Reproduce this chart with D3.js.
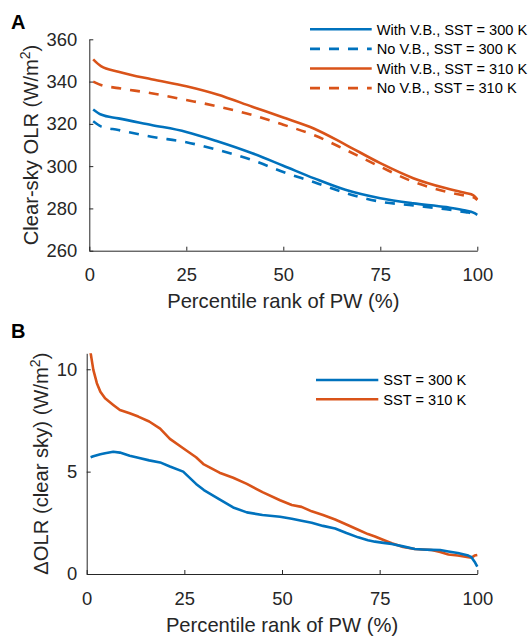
<!DOCTYPE html>
<html>
<head>
<meta charset="utf-8">
<script src="https://cdn.jsdelivr.net/npm/d3@7"></script>
<style>
  body { margin: 0; background: #fff; }
  svg { display: block; font-family: "Liberation Sans", Arial, sans-serif; }
</style>
</head>
<body>
<div id="chart"></div>
<script>
// panel A: clear-sky OLR vs percentile rank of PW
const pctA = [1, 3, 7.5, 16, 25, 33, 42, 50, 58, 66, 75, 83.5, 92, 97, 99, 100];
const vb300 = [326.8, 324.4, 322.6, 319.5, 316.2, 311.8, 306.1, 300.2, 294.2, 288.8, 284.8, 282.4, 280.6, 279.0, 278.0, 277.0];
const novb300 = [321.2, 318.8, 317.1, 313.9, 311.3, 307.7, 302.9, 297.2, 292.4, 287.3, 283.2, 281.4, 279.6, 278.2, 277.6, 277.0];
const vb310 = [350.5, 347.3, 344.7, 341.1, 337.8, 333.9, 328.1, 323.0, 317.7, 310.2, 301.4, 294.3, 289.5, 287.3, 286.2, 284.3];
const novb310 = [340.0, 338.4, 336.9, 334.5, 331.3, 328.3, 324.2, 319.6, 314.6, 307.8, 299.7, 292.6, 287.9, 286.0, 285.2, 284.0];
const legendA = ["With V.B., SST = 300 K", "No V.B., SST = 300 K", "With V.B., SST = 310 K", "No V.B., SST = 310 K"];

// panel B: delta OLR (clear sky)
const pctB = [1, 1.7, 2.6, 3.5, 4.7, 6.8, 8.5, 11, 13.2, 16, 18.8, 21.3, 24.7, 28, 30, 34, 37.5, 41, 45, 49.5,
  52.5, 55, 57.6, 60.5, 63.6, 66.5, 69.5, 72, 73.8, 76, 78.1, 81, 84, 86, 88.3, 90.5, 92.6, 95, 97.7, 98.5, 99.3, 100];
const dOlr300 = [5.70, 5.75, 5.80, 5.85, 5.90, 5.97, 5.93, 5.78, 5.68, 5.55, 5.45, 5.25, 5.00, 4.40, 4.10, 3.65, 3.25, 3.01, 2.88, 2.80,
  2.70, 2.60, 2.50, 2.35, 2.22, 2.00, 1.79, 1.65, 1.58, 1.52, 1.47, 1.35, 1.22, 1.20, 1.18, 1.17, 1.10, 1.03, 0.90, 0.82, 0.60, 0.36];
const dOlr310 = [10.8, 9.97, 9.32, 8.90, 8.58, 8.26, 8.01, 7.85, 7.69, 7.45, 7.10, 6.60, 6.14, 5.70, 5.35, 4.95, 4.70, 4.40, 4.00, 3.60,
  3.37, 3.28, 3.06, 2.88, 2.66, 2.42, 2.16, 1.95, 1.83, 1.66, 1.50, 1.32, 1.22, 1.20, 1.17, 1.07, 0.95, 0.90, 0.82, 0.80, 0.90, 0.93];
const legendB = ["SST = 300 K", "SST = 310 K"];

const blue = "#0072BD", orange = "#D95319", ink = "#262626";
const tickFont = 18.4, labelFont = 20.2, legFont = 14.6;

const svg = d3.select("#chart").append("svg")
    .attr("width", 532)
    .attr("height", 637);

function styleAxis(g) {
    g.attr("font-family", null).attr("font-size", null);
    g.select(".domain").attr("stroke", ink).attr("stroke-width", 1);
    g.selectAll(".tick line").attr("stroke", ink).attr("stroke-width", 1);
    g.selectAll(".tick text").attr("fill", ink).style("font-size", tickFont + "px");
}

// ---------- panel A ----------
const xA = d3.scaleLinear().domain([0, 100]).range([89.3, 477.3]);
const yA = d3.scaleLinear().domain([260, 360]).range([250.7, 39.3]);

svg.append("g")
    .attr("transform", "translate(0," + yA(260) + ")")
    .call(d3.axisBottom(xA).tickValues([0, 25, 50, 75, 100]).tickSizeInner(-4).tickSizeOuter(0).tickPadding(17.7))
    .call(styleAxis);

svg.append("g")
    .attr("transform", "translate(" + xA(0) + ",0)")
    .call(d3.axisLeft(yA).tickValues([260, 280, 300, 320, 340, 360]).tickSizeInner(-4).tickSizeOuter(0).tickPadding(12))
    .call(styleAxis);

const lineA = d3.line()
    .x((d, i) => xA(pctA[i]))
    .y(d => yA(d))
    .curve(d3.curveMonotoneX);

const seriesA = [
    {vals: vb300, color: blue, dash: null},
    {vals: novb300, color: blue, dash: "10,9"},
    {vals: vb310, color: orange, dash: null},
    {vals: novb310, color: orange, dash: "10,9"}
];

// draw dashed underneath, solid on top (like the figure)
[1, 3, 0, 2].forEach(k => {
    const s = seriesA[k];
    svg.append("path")
        .datum(s.vals)
        .attr("fill", "none")
        .attr("stroke", s.color)
        .attr("stroke-width", 2.6)
        .attr("stroke-dasharray", s.dash)
        .attr("d", lineA);
});

const legA = svg.append("g");
seriesA.forEach((s, i) => {
    const y = 29.3 + i * 19.6;
    legA.append("line")
        .attr("x1", 310).attr("x2", 371.7)
        .attr("y1", y).attr("y2", y)
        .attr("stroke", s.color)
        .attr("stroke-width", 2.6)
        .attr("stroke-dasharray", s.dash);
    legA.append("text")
        .attr("x", 376.7).attr("y", y + 5.2)
        .attr("fill", "#000")
        .style("font-size", legFont + "px")
        .text(legendA[i]);
});

svg.append("text")
    .attr("x", xA(50)).attr("y", 308)
    .attr("text-anchor", "middle")
    .attr("fill", ink)
    .style("font-size", labelFont + "px")
    .text("Percentile rank of PW (%)");

const ylabA = svg.append("text")
    .attr("transform", "translate(37.5," + ((yA(260) + yA(360)) / 2) + ") rotate(-90)")
    .attr("text-anchor", "middle")
    .attr("fill", ink)
    .style("font-size", labelFont + "px");
ylabA.append("tspan").text("Clear-sky OLR (W/m");
ylabA.append("tspan").attr("dy", -8).style("font-size", "14px").text("2");
ylabA.append("tspan").attr("dy", 8).text(")");

svg.append("text")
    .attr("x", 11).attr("y", 29.3)
    .attr("font-weight", "bold")
    .style("font-size", "20px")
    .text("A");

// ---------- panel B ----------
const xB = d3.scaleLinear().domain([0, 100]).range([86.7, 477.3]);
const yB = d3.scaleLinear().domain([0, 10.78]).range([574, 353.3]);

svg.append("g")
    .attr("transform", "translate(0," + yB(0) + ")")
    .call(d3.axisBottom(xB).tickValues([0, 25, 50, 75, 100]).tickSizeInner(-4).tickSizeOuter(0).tickPadding(17.9))
    .call(styleAxis);

svg.append("g")
    .attr("transform", "translate(" + xB(0) + ",0)")
    .call(d3.axisLeft(yB).tickValues([0, 5, 10]).tickSizeInner(-4).tickSizeOuter(0).tickPadding(9.4))
    .call(styleAxis);

svg.append("clipPath").attr("id", "clipB")
    .append("rect")
    .attr("x", xB(0)).attr("y", yB(10.78))
    .attr("width", xB(100) - xB(0) + 4)
    .attr("height", yB(0) - yB(10.78));

const lineB = d3.line()
    .x((d, i) => xB(pctB[i]))
    .y(d => yB(d));

const seriesB = [
    {vals: dOlr300, color: blue},
    {vals: dOlr310, color: orange}
];

[1, 0].forEach(k => {
    svg.append("path")
        .datum(seriesB[k].vals)
        .attr("clip-path", "url(#clipB)")
        .attr("fill", "none")
        .attr("stroke", seriesB[k].color)
        .attr("stroke-width", 2.6)
        .attr("stroke-linejoin", "round")
        .attr("d", lineB);
});

const legB = svg.append("g");
seriesB.forEach((s, i) => {
    const y = 380 + i * 19.3;
    legB.append("line")
        .attr("x1", 316).attr("x2", 378.3)
        .attr("y1", y).attr("y2", y)
        .attr("stroke", s.color)
        .attr("stroke-width", 2.6);
    legB.append("text")
        .attr("x", 383.3).attr("y", y + 5.2)
        .attr("fill", "#000")
        .style("font-size", legFont + "px")
        .text(legendB[i]);
});

svg.append("text")
    .attr("x", xB(50)).attr("y", 631.7)
    .attr("text-anchor", "middle")
    .attr("fill", ink)
    .style("font-size", labelFont + "px")
    .text("Percentile rank of PW (%)");

const ylabB = svg.append("text")
    .attr("transform", "translate(47.5," + ((yB(0) + yB(10.78)) / 2) + ") rotate(-90)")
    .attr("text-anchor", "middle")
    .attr("fill", ink)
    .style("font-size", labelFont + "px");
ylabB.append("tspan").text("\u0394OLR (clear sky) (W/m");
ylabB.append("tspan").attr("dy", -8).style("font-size", "14px").text("2");
ylabB.append("tspan").attr("dy", 8).text(")");

svg.append("text")
    .attr("x", 11).attr("y", 337.7)
    .attr("font-weight", "bold")
    .style("font-size", "20px")
    .text("B");
</script>
</body>
</html>
